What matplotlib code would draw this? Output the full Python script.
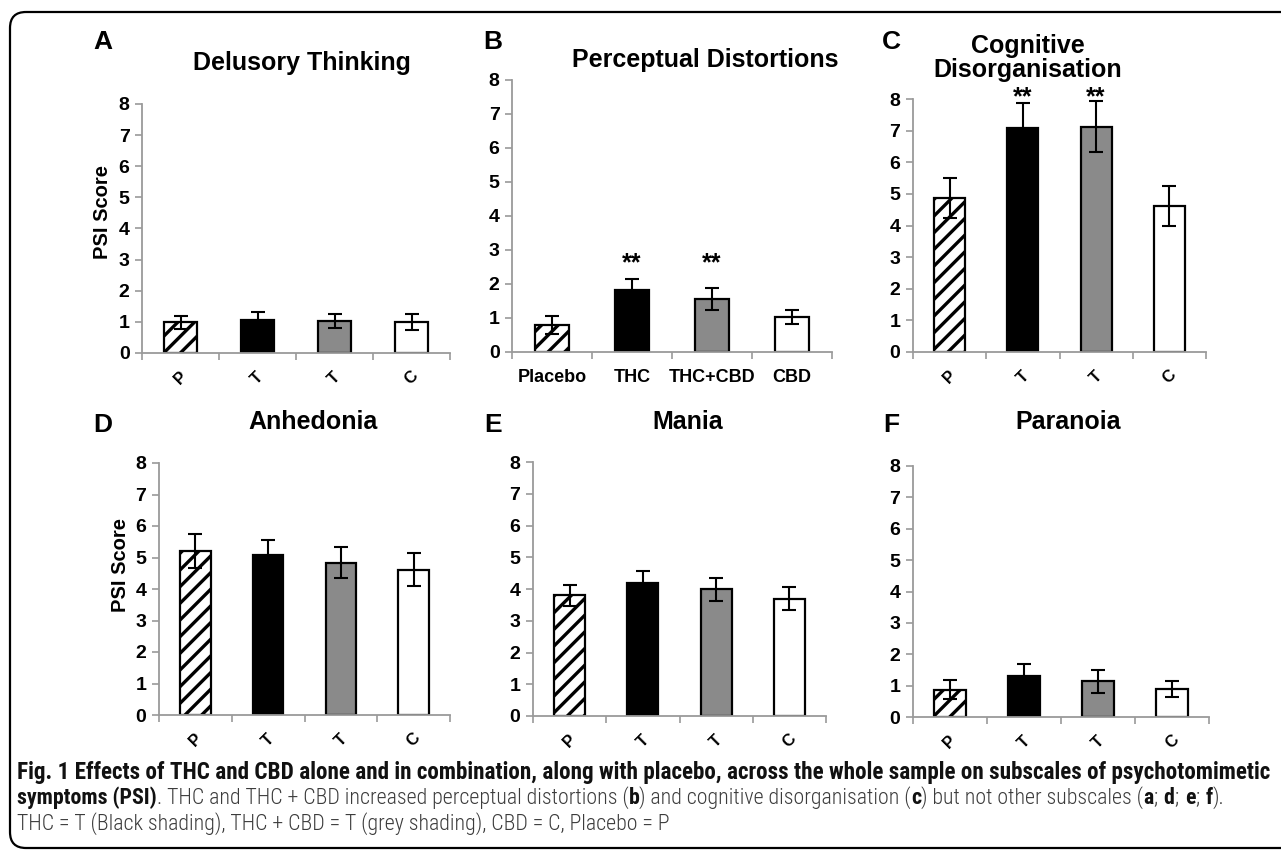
import matplotlib
matplotlib.use("Agg")
import matplotlib.pyplot as plt
from matplotlib import font_manager
from matplotlib.patches import FancyBboxPatch
import numpy as np

# ---------------- data ----------------
conditions = ["Placebo", "THC", "THC+CBD", "CBD"]
short_labels = ["P", "T", "T", "C"]
panel_letters = ["A", "B", "C", "D", "E", "F"]
panel_titles = ["Delusory Thinking", "Perceptual Distortions", "Cognitive\nDisorganisation",
                "Anhedonia", "Mania", "Paranoia"]

delusory_mean = [0.98, 1.05, 1.02, 1.00]
delusory_sem = [0.22, 0.27, 0.23, 0.25]
perceptual_mean = [0.80, 1.81, 1.57, 1.03]
perceptual_sem = [0.27, 0.34, 0.32, 0.21]
cognitive_mean = [4.88, 7.08, 7.13, 4.62]
cognitive_sem = [0.63, 0.79, 0.80, 0.63]
anhedonia_mean = [5.21, 5.07, 4.84, 4.61]
anhedonia_sem = [0.53, 0.48, 0.49, 0.52]
mania_mean = [3.80, 4.18, 3.99, 3.70]
mania_sem = [0.32, 0.39, 0.37, 0.35]
paranoia_mean = [0.87, 1.30, 1.14, 0.89]
paranoia_sem = [0.30, 0.38, 0.36, 0.26]

perceptual_sig = ["", "**", "**", ""]
cognitive_sig = ["", "**", "**", ""]
no_sig = ["", "", "", ""]

y_ticks = [0, 1, 2, 3, 4, 5, 6, 7, 8]
y_label = "PSI Score"

caption_line1 = ("Fig. 1 Effects of THC and CBD alone and in combination, along with placebo, "
                 "across the whole sample on subscales of psychotomimetic")
caption_line2 = [("symptoms (PSI)", True), (". THC and THC + CBD increased perceptual distortions (", False),
                 ("b", True), (") and cognitive disorganisation (", False), ("c", True),
                 (") but not other subscales (", False), ("a", True), (";", False), ("d", True),
                 (";", False), ("e", True), (";", False), ("f", True), (").", False)]
caption_line3 = "THC = T (Black shading), THC + CBD = T (grey shading), CBD = C, Placebo = P"

# ---------------- style ----------------
W, H = 1281, 852
plt.rcParams['font.family'] = ['Liberation Sans', 'DejaVu Sans']
plt.rcParams['hatch.linewidth'] = 2.4
plt.rcParams['hatch.color'] = 'black'

bar_colors = ['white', 'black', '#8a8a8a', 'white']
bar_hatches = ['//', None, None, None]
spine_color = '#9a9a9a'

fig = plt.figure(figsize=(W / 100, H / 100), dpi=100)

# overlay in pixel coordinates for frame and texts
ov = fig.add_axes([0, 0, 1, 1])
ov.set_xlim(0, W)
ov.set_ylim(H, 0)
ov.axis('off')
ov.set_zorder(5)
ov.patch.set_alpha(0)

frame = FancyBboxPatch((10, 12), 1320, 836, boxstyle="round,pad=0,rounding_size=16",
                       fill=False, edgecolor='black', linewidth=1.6)
ov.add_patch(frame)

panels = [
    (delusory_mean, delusory_sem, no_sig, (142, 104, 450, 353), False, None),
    (perceptual_mean, perceptual_sem, perceptual_sig, (512, 80, 832, 352), True, 2.62),
    (cognitive_mean, cognitive_sem, cognitive_sig, (913, 99, 1206, 352), False, 8.05),
    (anhedonia_mean, anhedonia_sem, no_sig, (159, 463, 450, 715), False, None),
    (mania_mean, mania_sem, no_sig, (533, 462, 826, 716), False, None),
    (paranoia_mean, paranoia_sem, no_sig, (913, 466, 1209, 717), False, None),
]
letter_pos = [(103, 42), (493, 42), (891, 42), (103, 425), (493, 425), (891, 425)]
title_pos = [(302, 63), (705, 60), (1028, 58), (313, 422), (688, 422), (1068, 422)]
ylabel_pos = [(102, 212), None, None, (120, 565), None, None]

x = np.arange(4)
for i, (means, sems, sig, (x0, y0, x1, y1), full_names, star_y) in enumerate(panels):
    ax = fig.add_axes([x0 / W, 1 - y1 / H, (x1 - x0) / W, (y1 - y0) / H])
    ax.patch.set_alpha(0)
    bars = ax.bar(x, means, width=0.42, color=bar_colors, edgecolor='black', linewidth=1.6, zorder=2)
    for b, h in zip(bars, bar_hatches):
        if h:
            b.set_hatch(h)
    ax.errorbar(x, means, yerr=sems, fmt='none', ecolor='black', elinewidth=1.5,
                capsize=5, capthick=1.5, zorder=3)
    if star_y is not None:
        for xi, s in zip(x, sig):
            if s:
                ax.text(xi, star_y, s, ha='center', va='center', fontsize=18, fontweight='bold')
    ax.set_xlim(-0.5, 3.5)
    ax.set_ylim(0, 8)
    ax.set_yticks(y_ticks)
    ax.set_yticklabels([str(t) for t in y_ticks], fontsize=14, fontweight='bold')
    for s in ['top', 'right']:
        ax.spines[s].set_visible(False)
    for s in ['left', 'bottom']:
        ax.spines[s].set_color(spine_color)
        ax.spines[s].set_linewidth(1.3)
    ax.tick_params(axis='y', direction='out', length=5, width=1.2, color=spine_color, pad=4)
    ax.set_xticks(x)
    if full_names:
        ax.set_xticklabels(conditions, fontsize=13, fontweight='bold')
        ax.tick_params(axis='x', which='major', length=0, pad=12)
    else:
        ax.set_xticklabels(short_labels, fontsize=12, fontweight='bold', rotation=45,
                           ha='center', va='center')
        ax.tick_params(axis='x', which='major', length=0, pad=18)
    ax.set_xticks(np.arange(-0.5, 4.0, 1.0), minor=True)
    ax.tick_params(axis='x', which='minor', direction='out', length=5, width=1.2, color=spine_color)

    lx, ly = letter_pos[i]
    ov.text(lx, ly, panel_letters[i], ha='center', va='center', fontsize=19, fontweight='bold')
    tx, ty = title_pos[i]
    ov.text(tx, ty, panel_titles[i], ha='center', va='center', fontsize=18, fontweight='bold',
            linespacing=1.0)
    if ylabel_pos[i]:
        yx, yy = ylabel_pos[i]
        ov.text(yx, yy, y_label, ha='center', va='center', rotation=90, fontsize=14.5,
                fontweight='bold')

# ---------------- caption ----------------
names = {f.name for f in font_manager.fontManager.ttflist}
cands = ['Liberation Sans Narrow', 'Roboto Condensed', 'Open Sans Condensed', 'Noto Sans Condensed',
         'Roboto', 'Open Sans', 'Lato']
cap_name = next((c for c in cands if c in names), 'DejaVu Sans')
cap_family = [cap_name, 'DejaVu Sans']

renderer = fig.canvas.get_renderer()
cap_x = 17
fs = 14
t1 = ov.text(cap_x, 772, caption_line1, ha='left', va='center', fontsize=fs, fontweight='bold',
             family=cap_family, color='#111111')
w = t1.get_window_extent(renderer).width
fs1 = fs * 1258 / w
t1.set_fontsize(fs1)

bold_col = '#111111'
reg_col = '#3c3c3c'
line2 = []
prev = None
for txt, bold in caption_line2:
    kw = dict(fontsize=fs1, fontweight='bold' if bold else 'light', family=cap_family,
              color=bold_col if bold else reg_col)
    if prev is None:
        prev = ov.text(cap_x, 798, txt, ha='left', va='center', **kw)
    else:
        gap = 0.28 if prev.get_text() == ';' else 0
        prev = ov.annotate(txt, xy=(1, 0.5), xycoords=prev, xytext=(gap * fs1, 0),
                           textcoords='offset points', ha='left', va='center', **kw)
        prev._gapfac = gap
    line2.append(prev)

fig.canvas.draw()
right = line2[-1].get_window_extent(renderer).x1
fs2 = fs1 * (1229 - cap_x) / (right - cap_x)
for t in line2:
    t.set_fontsize(fs2)
    if hasattr(t, '_gapfac'):
        t.xyann = (t._gapfac * fs2, 0)

ov.text(cap_x, 824, caption_line3, ha='left', va='center', fontsize=fs2, fontweight='light',
        family=cap_family, color=reg_col)

fig.savefig("out.png", dpi=100)
